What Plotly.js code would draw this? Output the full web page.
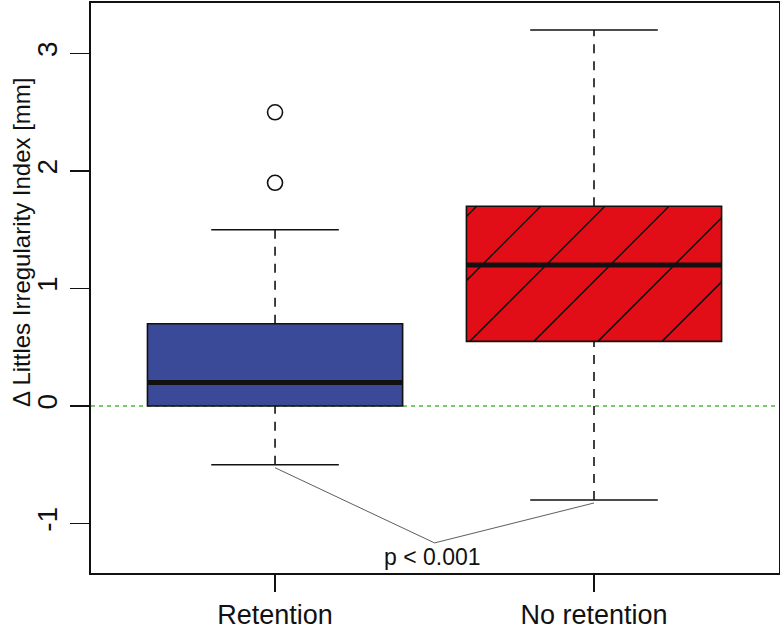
<!DOCTYPE html>
<html>
<head>
<meta charset="utf-8">
<script src="https://cdn.plot.ly/plotly-3.0.1.min.js"></script>
<style>
  html, body { margin: 0; padding: 0; background: #ffffff; }
  #chart { width: 780px; height: 630px; }
</style>
</head>
<body>
<div id="chart"></div>
<script>
/* =========================
   DATA
========================= */
const groups = ["Retention", "No retention"];
const positions = [1, 2];
const lowerWhisker = [-0.5, -0.8];
const q1 = [0, 0.55];
const median = [0.2, 1.2];
const q3 = [0.7, 1.7];
const upperWhisker = [1.5, 3.2];
const outlierGroup = [1, 1];
const outlierValue = [2.5, 1.9];
const pText = "p < 0.001";
const pVertex = [1.5, -1.165];
const refValue = 0;

/* =========================
   LOOK
========================= */
const boxColors = ["#3a4a98", "#e10e17"];
const hatched = [false, true];
const boxWidth = 0.8;
const capWidth = 0.4;
const font = "'Liberation Sans', Arial, Helvetica, sans-serif";

const xRange = [0.423, 2.58];
const yRange = [-1.421, 3.43];
const margin = { l: 91, r: 1, t: 3, b: 57 };
const plotW = 780 - margin.l - margin.r;
const plotH = 630 - margin.t - margin.b;

// slope of a 45deg line (in pixels) expressed in data units
const hatchSlope = (plotW / (xRange[1] - xRange[0])) / (plotH / (yRange[1] - yRange[0]));
const hatchStep = 0.201;
const hatchPhase = 0.368; // first line meets the box top this far left of centre

function segments(pairs) {
  const xs = [], ys = [];
  pairs.forEach(p => { xs.push(p[0], p[2], null); ys.push(p[1], p[3], null); });
  return { x: xs, y: ys };
}

function hatchLines(i) {
  const xl = positions[i] - boxWidth / 2, xr = positions[i] + boxWidth / 2;
  const top = q3[i], bot = q1[i], m = hatchSlope;
  const segs = [];
  const start = positions[i] - hatchPhase;
  for (let k = -2; k < 12; k++) {
    const xk = start + k * hatchStep;
    const ylo = Math.max(bot, top + (xl - xk) * m);
    const yhi = Math.min(top, top + (xr - xk) * m);
    if (yhi > ylo) {
      segs.push([xk + (ylo - top) / m, ylo, xk + (yhi - top) / m, yhi]);
    }
  }
  return segments(segs);
}

const traces = [];

// boxes
traces.push({
  type: "bar",
  x: positions,
  base: q1,
  y: q3.map((v, i) => v - q1[i]),
  width: boxWidth,
  marker: { color: boxColors, line: { color: "#111111", width: 1.6 } },
  hoverinfo: "skip"
});

// hatching
positions.forEach((p, i) => {
  if (!hatched[i]) return;
  const h = hatchLines(i);
  traces.push({
    type: "scatter", mode: "lines", x: h.x, y: h.y,
    line: { color: "#111111", width: 1.5 }, hoverinfo: "skip"
  });
});

// medians
const med = segments(positions.map((p, i) => [p - boxWidth / 2, median[i], p + boxWidth / 2, median[i]]));
traces.push({
  type: "scatter", mode: "lines", x: med.x, y: med.y,
  line: { color: "#111111", width: 5 }, hoverinfo: "skip"
});

// whiskers (dashed)
const wh = segments(positions.flatMap((p, i) => [
  [p, q3[i], p, upperWhisker[i]],
  [p, lowerWhisker[i], p, q1[i]]
]));
traces.push({
  type: "scatter", mode: "lines", x: wh.x, y: wh.y,
  line: { color: "#111111", width: 1.6, dash: "9px,8px" }, hoverinfo: "skip"
});

// whisker caps
const caps = segments(positions.flatMap((p, i) => [
  [p - capWidth / 2, upperWhisker[i], p + capWidth / 2, upperWhisker[i]],
  [p - capWidth / 2, lowerWhisker[i], p + capWidth / 2, lowerWhisker[i]]
]));
traces.push({
  type: "scatter", mode: "lines", x: caps.x, y: caps.y,
  line: { color: "#111111", width: 1.6 }, hoverinfo: "skip"
});

// outliers
traces.push({
  type: "scatter", mode: "markers",
  x: outlierGroup.map(g => positions[g - 1]),
  y: outlierValue,
  marker: { symbol: "circle-open", size: 15, color: "#111111", line: { width: 1.6 } },
  hoverinfo: "skip"
});

// p-value bracket
traces.push({
  type: "scatter", mode: "lines",
  x: [positions[0], pVertex[0], positions[1]],
  y: [lowerWhisker[0] - 0.025, pVertex[1], lowerWhisker[1] - 0.025],
  line: { color: "#333333", width: 0.8 }, hoverinfo: "skip"
});

const layout = {
  width: 780,
  height: 630,
  margin: margin,
  paper_bgcolor: "#ffffff",
  plot_bgcolor: "#ffffff",
  showlegend: false,
  font: { family: font, color: "#111111" },
  xaxis: {
    range: xRange,
    tickvals: positions,
    ticktext: groups,
    ticks: "outside",
    ticklen: 17,
    tickwidth: 1.2,
    tickcolor: "#111111",
    tickfont: { size: 27, family: font, color: "#111111" },
    showline: true,
    mirror: true,
    linecolor: "#111111",
    linewidth: 1.6,
    showgrid: false,
    zeroline: false
  },
  yaxis: {
    range: yRange,
    tickvals: [-1, 0, 1, 2, 3],
    ticktext: ["-1", "0", "1", "2", "3"],
    tickangle: -90,
    ticks: "outside",
    ticklen: 19,
    tickwidth: 1.2,
    tickcolor: "#111111",
    tickfont: { size: 28, family: font, color: "#111111" },
    ticklabelstandoff: 2,
    showline: true,
    mirror: true,
    linecolor: "#111111",
    linewidth: 1.6,
    showgrid: false,
    zeroline: false
  },
  shapes: [{
    type: "line", xref: "paper", x0: 0, x1: 1, yref: "y", y0: refValue, y1: refValue,
    line: { color: "#4cbb3c", width: 1.5, dash: "4px,4px" }, layer: "below"
  }],
  annotations: [
    {
      text: "\u0394 Littles Irregularity Index [mm]",
      xref: "paper", yref: "paper", x: 0, y: 0.579,
      xshift: -69, textangle: -90, showarrow: false,
      xanchor: "center", yanchor: "middle",
      font: { size: 24, family: font, color: "#111111" }
    },
    {
      text: pText,
      xref: "x", yref: "y", x: pVertex[0], y: pVertex[1],
      yshift: -14, xshift: -2, showarrow: false, yanchor: "middle",
      font: { size: 23, family: font, color: "#111111" }
    }
  ]
};

Plotly.newPlot("chart", traces, layout, { displayModeBar: false, staticPlot: true });
</script>
</body>
</html>
